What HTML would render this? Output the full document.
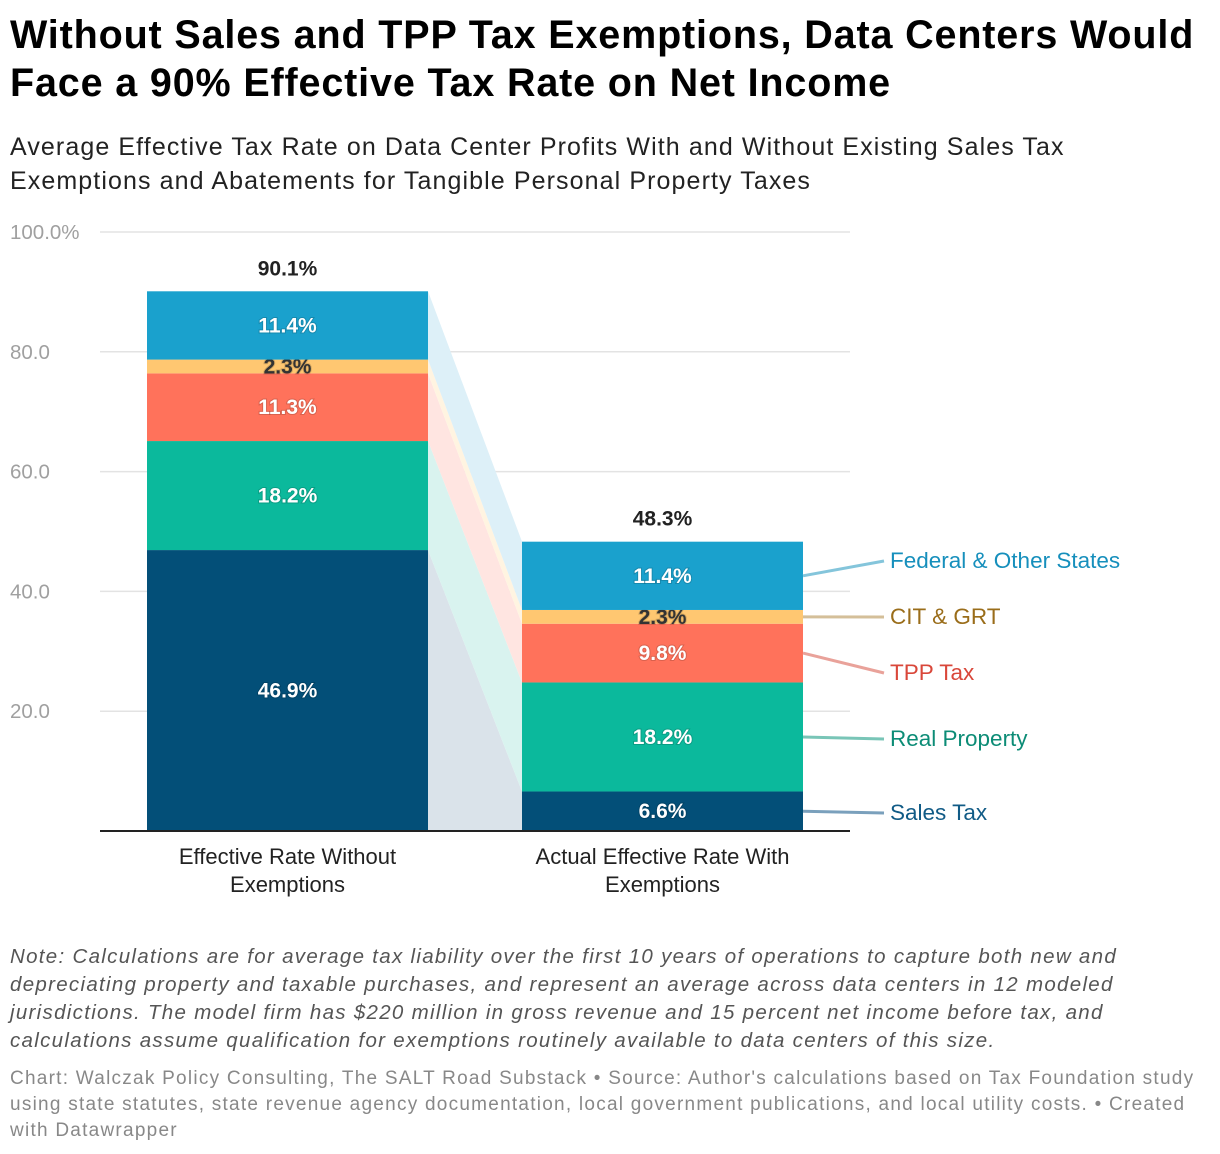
<!DOCTYPE html>
<html><head><meta charset="utf-8"><style>
body{margin:0;background:#fff;width:1220px;height:1154px;overflow:hidden;font-family:"Liberation Sans",sans-serif}
h1{position:absolute;left:10px;top:11px;margin:0;font-size:39.5px;line-height:48px;font-weight:bold;color:#000;white-space:nowrap;letter-spacing:0.85px}
.sub{position:absolute;left:10px;top:130px;font-size:25px;line-height:34px;color:#222;white-space:nowrap;letter-spacing:1.1px}
.note{position:absolute;left:10px;top:943px;font-size:20.5px;line-height:28px;font-style:italic;color:#555;white-space:nowrap;letter-spacing:1.3px}
.src{position:absolute;left:10px;top:1066px;font-size:19px;line-height:26px;color:#888;white-space:nowrap;letter-spacing:1.25px}
svg{position:absolute;left:0;top:0}
</style></head><body>
<h1>Without Sales and TPP Tax Exemptions, Data Centers Would<br>Face a 90% Effective Tax Rate on Net Income</h1>
<div class="sub">Average Effective Tax Rate on Data Center Profits With and Without Existing Sales Tax<br>Exemptions and Abatements for Tangible Personal Property Taxes</div>
<svg id="chart" width="1220" height="940"></svg>
<div class="note">Note: Calculations are for average tax liability over the first 10 years of operations to capture both new and<br>depreciating property and taxable purchases, and represent an average across data centers in 12 modeled<br>jurisdictions. The model firm has $220 million in gross revenue and 15 percent net income before tax, and<br>calculations assume qualification for exemptions routinely available to data centers of this size.</div>
<div class="src">Chart: Walczak Policy Consulting, The SALT Road Substack • Source: Author's calculations based on Tax Foundation study<br>using state statutes, state revenue agency documentation, local government publications, and local utility costs. • Created<br>with Datawrapper</div>
<script>
const categories=["Effective Rate Without|Exemptions","Actual Effective Rate With|Exemptions"];
const seriesNames=["Sales Tax","Real Property","TPP Tax","CIT & GRT","Federal & Other States"];
const salesTax=[46.9,6.6];
const realProperty=[18.2,18.2];
const tppTax=[11.3,9.8];
const citGrt=[2.3,2.3];
const federal=[11.4,11.4];
const totals=[90.1,48.3];
const yTicks=[0,20,40,60,80,100];
const yTickLabels=["","20.0","40.0","60.0","80.0","100.0%"];
const colors=["#034f78","#0bb99c","#ff725b","#ffc771","#1aa1cd"];
const bandColors=["#dae3ea","#d9f3ef","#ffe5e1","#fff4e1","#ddf0f8"];
const labelColors=["#115b86","#0c8c76","#d9473a","#9a6d1a","#168fbc"];
const lineColors=["#7aa0bc","#79c5b7","#e9a29a","#d4bf99","#84c5db"];
const labelTextColor=["#fff","#fff","#fff","#333","#fff"];
const series=[salesTax,realProperty,tppTax,citGrt,federal];
const svg=document.getElementById('chart');const NS='http://www.w3.org/2000/svg';
const y=v=>831-v*5.99;
const barX=[147,522],barW=281;
function mk(t,a,p){const e=document.createElementNS(NS,t);for(const k in a)e.setAttribute(k,a[k]);(p||svg).appendChild(e);return e;}
yTicks.forEach((t,i)=>{
 if(t>0){const l=mk('line',{x1:100,x2:850,y1:y(t),y2:y(t),stroke:'#e3e3e3','stroke-width':1.5});
 
 }
 const tx=mk('text',{x:10,y:y(t)+7,'font-size':20.5,fill:'#a0a0a0'});tx.textContent=yTickLabels[i];
 
 
});
const cum=[[0],[0]];
for(let b=0;b<2;b++){let s=0;series.forEach(sr=>{s+=sr[b];cum[b].push(s);});}
series.forEach((sr,i)=>{
 const p=mk('polygon',{points:`${barX[0]+barW},${y(cum[0][i])} ${barX[1]},${y(cum[1][i])} ${barX[1]},${y(cum[1][i+1])} ${barX[0]+barW},${y(cum[0][i+1])}`,fill:bandColors[i]});
 
 
});
for(let b=0;b<2;b++){
 series.forEach((sr,i)=>{
  const r=mk('rect',{x:barX[b],width:barW,y:y(cum[b][i+1]),height:y(cum[b][i])-y(cum[b][i+1]),fill:colors[i]});
  
  
  const ym=(y(cum[b][i])+y(cum[b][i+1]))/2;
  const t=mk('text',{x:barX[b]+barW/2,y:ym+7,'text-anchor':'middle','font-size':21,'font-weight':'bold',fill:labelTextColor[i],style:'paint-order:stroke;stroke:rgba(0,0,0,0.15);stroke-width:2px'});
  t.textContent=sr[b].toFixed(1)+'%';
  
  
 });
 const tt=mk('text',{x:barX[b]+barW/2,y:y(totals[b])-16,'text-anchor':'middle','font-size':21,'font-weight':'bold',fill:'#222'});
 tt.textContent=totals[b].toFixed(1)+'%';
 
 
 categories[b].split('|').forEach((ln,j)=>{
  const c=mk('text',{x:barX[b]+barW/2,y:864+j*28,'text-anchor':'middle','font-size':22,fill:'#222'});c.textContent=ln;
  
  
 });
}
const ax=mk('line',{x1:100,x2:850,y1:831,y2:831,stroke:'#222','stroke-width':2});


const legY=[812,738,672,616,560];
series.forEach((sr,i)=>{
 const ym=(y(cum[1][i])+y(cum[1][i+1]))/2;
 const l=mk('line',{x1:803,y1:ym,x2:884,y2:legY[i]+1,stroke:lineColors[i],'stroke-width':3});
 
 
 const t=mk('text',{x:890,y:legY[i]+8,'font-size':22.5,fill:labelColors[i]});t.textContent=seriesNames[i];
 
 
});
</script>
</body></html>
